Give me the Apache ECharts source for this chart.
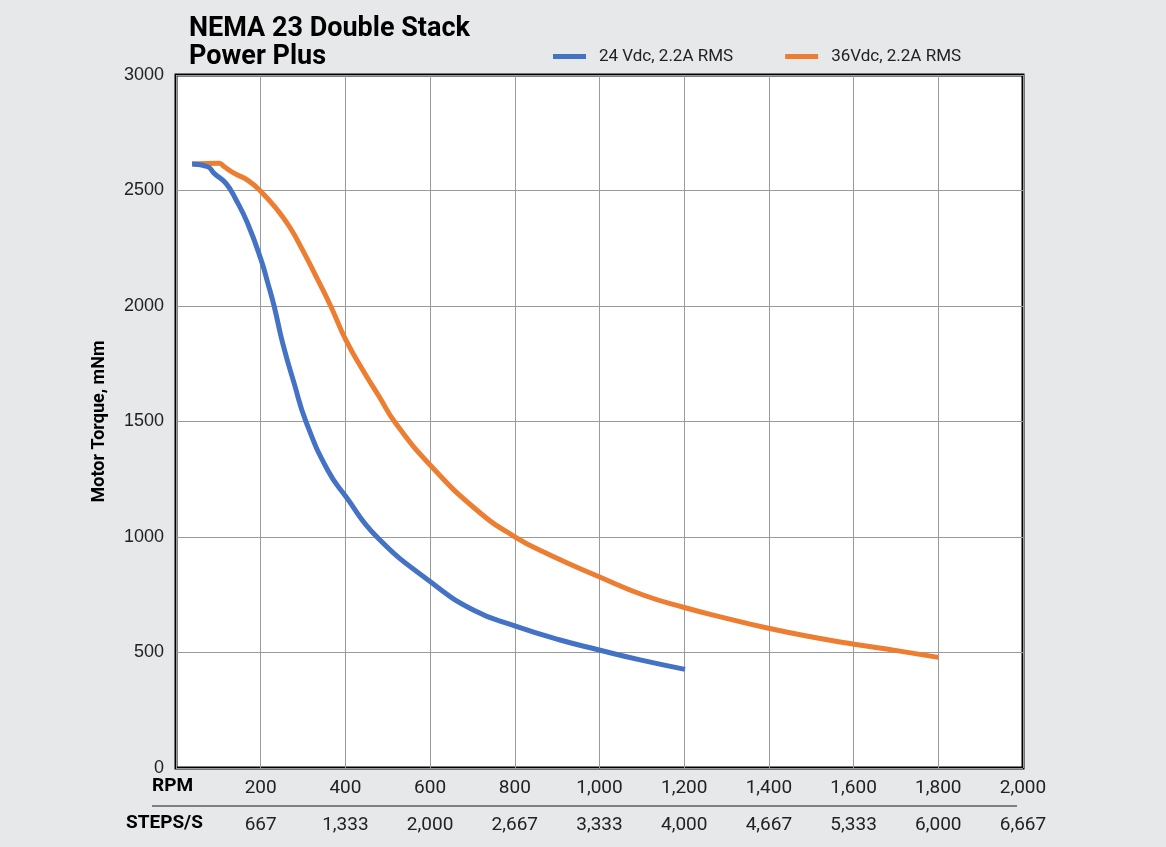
<!DOCTYPE html>
<html>
<head>
<meta charset="utf-8">
<script src="https://cdn.jsdelivr.net/npm/echarts@6/dist/echarts.min.js"></script>
<style>
  html, body { margin: 0; padding: 0; background: #e7e8ea; }
  #box { width: 1166px; height: 847px; }
</style>
</head>
<body>
<div id="box"></div>
<script>
// 24 Vdc 曲线 (RPM, mNm)
const rpm24 = [38, 75, 90, 118, 142, 169, 201, 217, 232, 252, 279, 307, 358, 401, 474, 600, 702, 800, 907, 999, 1096, 1202];
const torque24 = [2615, 2603, 2574, 2531, 2459, 2358, 2199, 2098, 1997, 1838, 1665, 1499, 1290, 1175, 1001, 807, 684, 615, 554, 511, 468, 427];

// 36 Vdc 曲线
const rpm36 = [38, 102, 114, 138, 169, 201, 236, 268, 299, 331, 366, 401, 441, 480, 517, 600, 710, 800, 883, 999, 1103, 1198, 1300, 1399, 1505, 1598, 1702, 1800];
const torque36 = [2615, 2618, 2603, 2574, 2545, 2495, 2423, 2343, 2242, 2127, 1997, 1853, 1723, 1607, 1497, 1312, 1117, 1001, 922, 828, 749, 696, 648, 605, 566, 537, 508, 479];

const seriesNames = ['24 Vdc, 2.2A RMS', '36Vdc, 2.2A RMS'];
const stepsPerRev = 200;

function pairs(xs, ys) {
    return xs.map(function (x, i) { return [x, ys[i]]; });
}

function fmt(v) {
    return Math.round(v).toLocaleString('en-US');
}

let chart = echarts.init(document.getElementById('box'));

let axisFont = { fontFamily: 'Roboto', fontSize: 19, color: '#222' };

let option = {
    backgroundColor: '#e7e8ea',
    animation: false,
    title: {
        text: 'NEMA 23 Double Stack\nPower Plus',
        left: 184,
        top: 10,
        textStyle: { fontFamily: 'Roboto', fontWeight: 'bold', fontSize: 27, lineHeight: 28, color: '#000' }
    },
    legend: {
        left: 548,
        top: 43,
        icon: 'rect',
        itemWidth: 33,
        itemHeight: 5,
        itemGap: 52,
        textStyle: { fontFamily: 'Roboto', fontSize: 17, color: '#222', padding: [0, 0, 0, 8] },
        data: seriesNames
    },
    grid: {
        left: 176, right: 143, top: 75, bottom: 79,
        show: true,
        backgroundColor: '#fff',
        borderColor: '#000',
        borderWidth: 3
    },
    xAxis: [{
        type: 'value',
        min: 0, max: 2000, interval: 200,
        axisLine: { show: false },
        axisTick: { show: false },
        splitLine: { lineStyle: { color: '#9a9a9a', width: 1 } },
        axisLabel: Object.assign({
            margin: 11,
            formatter: function (v) { return v === 0 ? '' : fmt(v); }
        }, axisFont)
    }, {
        type: 'value',
        min: 0, max: 2000, interval: 200,
        position: 'bottom',
        offset: 37,
        axisLine: { show: false },
        axisTick: { show: false },
        splitLine: { show: false },
        axisLabel: Object.assign({
            margin: 11,
            formatter: function (v) { return v === 0 ? '' : fmt(v * stepsPerRev / 60); }
        }, axisFont)
    }],
    yAxis: {
        type: 'value',
        min: 0, max: 3000, interval: 500,
        name: 'Motor Torque, mNm',
        nameLocation: 'middle',
        nameGap: 68,
        nameTextStyle: { fontFamily: 'Roboto', fontWeight: 'bold', fontSize: 18, color: '#000' },
        axisLine: { show: false },
        axisTick: { show: false },
        splitLine: { lineStyle: { color: '#9a9a9a', width: 1 } },
        axisLabel: {
            fontFamily: 'Liberation Sans', fontSize: 18, color: '#222', margin: 12,
            formatter: function (v) { return String(v); }
        }
    },
    graphic: [
        { type: 'text', left: 152, top: 777, style: { text: 'RPM', font: 'bold 19px Roboto', fill: '#000' } },
        { type: 'text', left: 126, top: 814, style: { text: 'STEPS/S', font: 'bold 19px Roboto', fill: '#000' } },
        { type: 'line', shape: { x1: 152, y1: 806, x2: 1017, y2: 806 }, style: { stroke: '#7f7f7f', lineWidth: 2 } }
    ],
    series: [{
        name: seriesNames[0],
        type: 'line',
        smooth: 0.5,
        showSymbol: false,
        z: 3,
        lineStyle: { color: '#4472c4', width: 5 },
        itemStyle: { color: '#4472c4' },
        data: pairs(rpm24, torque24)
    }, {
        name: seriesNames[1],
        type: 'line',
        smooth: 0.5,
        showSymbol: false,
        z: 2,
        lineStyle: { color: '#ed7d31', width: 5 },
        itemStyle: { color: '#ed7d31' },
        data: pairs(rpm36, torque36)
    }]
};

chart.setOption(option);
</script>
</body>
</html>
